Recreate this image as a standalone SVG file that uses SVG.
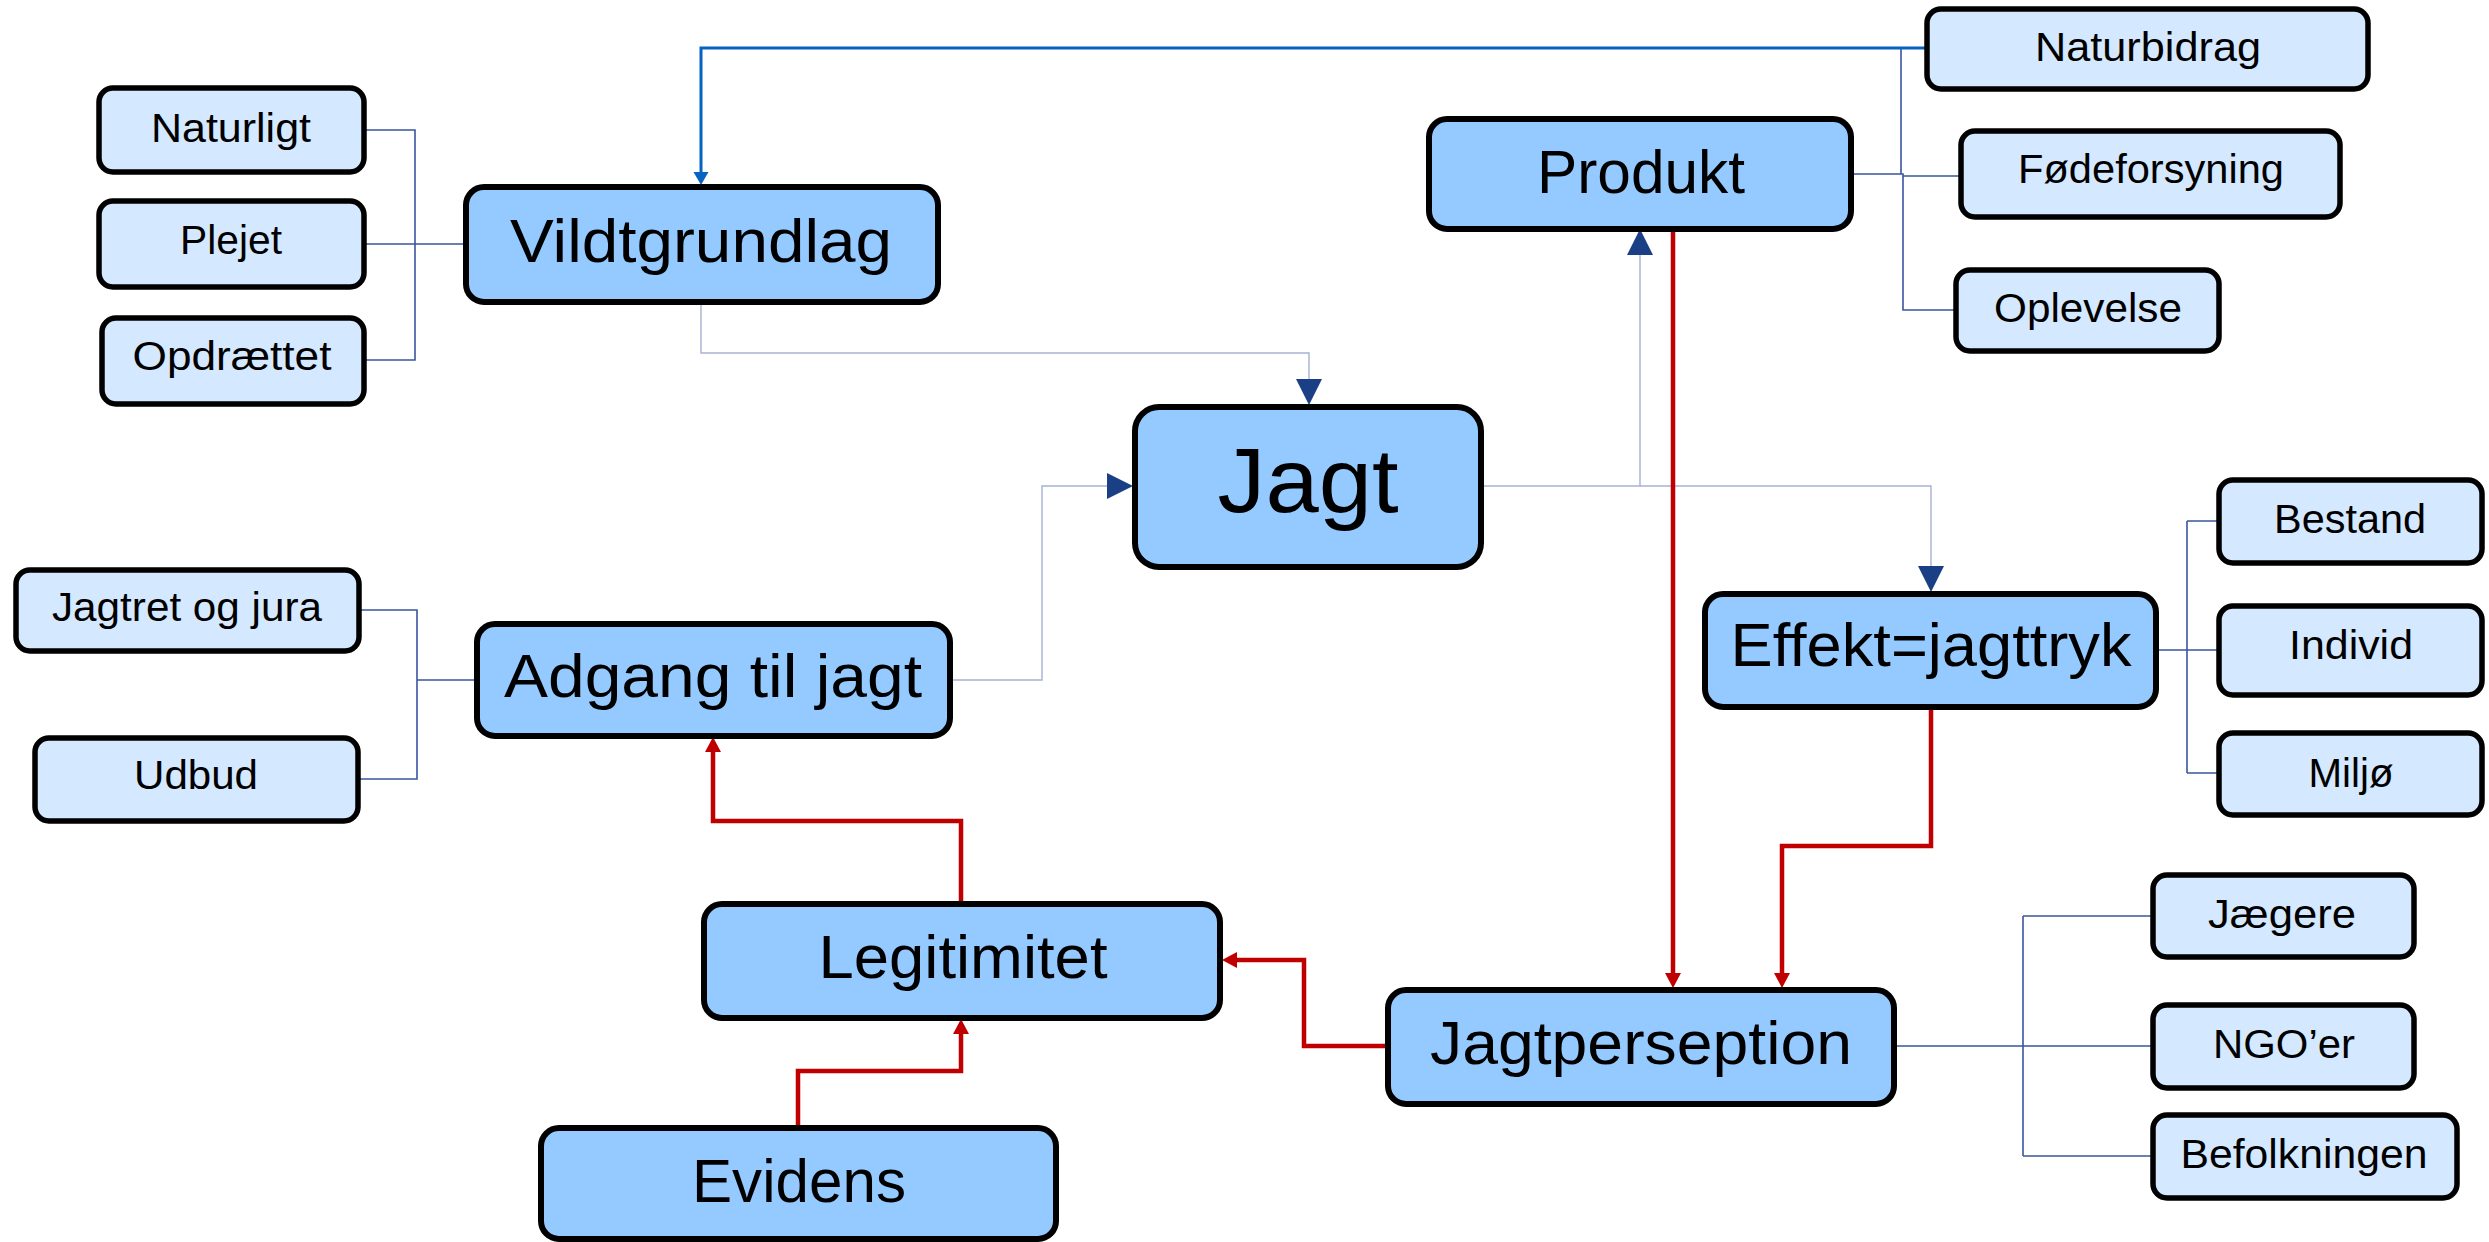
<svg xmlns="http://www.w3.org/2000/svg" width="2489" height="1242" viewBox="0 0 2489 1242">
<style>
.big rect{fill:#94CAFF;stroke:#000;stroke-width:6}
.sm rect{fill:#D4E9FF;stroke:#000;stroke-width:5.5}
text{font-family:"Liberation Sans",Arial,sans-serif;fill:#000;text-anchor:middle}
.big text{font-size:62px}
.sm text{font-size:41px}
.dk{fill:none;stroke:#3A55A0;stroke-width:1.6}
.lt{fill:none;stroke:#A6B2D2;stroke-width:1.4}
.bl{fill:none;stroke:#0563C1;stroke-width:3}
.rd{fill:none;stroke:#C00000;stroke-width:4.5}
</style>
<defs>
<marker id="mn" markerUnits="userSpaceOnUse" markerWidth="30" markerHeight="30" refX="0" refY="13" orient="auto" viewBox="0 0 30 30"><path d="M0,0 L26,13 L0,26 z" fill="#1A3F85"/></marker>
<marker id="mb" markerUnits="userSpaceOnUse" markerWidth="16" markerHeight="16" refX="0" refY="7.5" orient="auto" viewBox="0 0 16 16"><path d="M0,0 L13,7.5 L0,15 z" fill="#0563C1"/></marker>
<marker id="mr" markerUnits="userSpaceOnUse" markerWidth="18" markerHeight="18" refX="0" refY="8" orient="auto" viewBox="0 0 18 18"><path d="M0,0 L15,8 L0,16 z" fill="#C00000"/></marker>
</defs>
<g id="connectors">
<path class="dk" d="M364,130 H415 V360 H364 M364,244 H466"/>
<path class="dk" d="M359,610 H417 V779 H358 M417,680 H477"/>
<path class="dk" d="M2156,650 H2219 M2187,521 V773 M2187,521 H2219 M2187,773 H2219"/>
<path class="dk" d="M1894,1046 H2153 M2023,916 V1156 M2023,916 H2153 M2023,1156 H2153"/>
<path class="dk" d="M1851,174 H1903 V176 H1961 M1901,48 V174 M1903,176 V310 H1956"/>
<path class="lt" d="M701,302 V353 H1309 V379" marker-end="url(#mn)"/>
<path class="lt" d="M1481,486 H1640 V255" marker-end="url(#mn)"/>
<path class="lt" d="M1640,486 H1931 V566" marker-end="url(#mn)"/>
<path class="lt" d="M950,680 H1042 V486 H1107" marker-end="url(#mn)"/>
<path class="bl" d="M1927,48 H701 V172" marker-end="url(#mb)"/>
<path class="rd" d="M1673,230 V973" marker-end="url(#mr)"/>
<path class="rd" d="M1931,708 V846 H1782 V973" marker-end="url(#mr)"/>
<path class="rd" d="M1388,1046 H1304 V960 H1237" marker-end="url(#mr)"/>
<path class="rd" d="M961,904 V821 H713 V752" marker-end="url(#mr)"/>
<path class="rd" d="M798,1128 V1071 H961 V1034" marker-end="url(#mr)"/>
</g>
<g id="n-naturligt" class="sm"><rect x="99" y="88" width="265" height="84" rx="14"/><text x="231" y="142" textLength="160" lengthAdjust="spacingAndGlyphs">Naturligt</text></g>
<g id="n-plejet" class="sm"><rect x="99" y="201" width="265" height="86" rx="14"/><text x="231" y="254" textLength="102" lengthAdjust="spacingAndGlyphs">Plejet</text></g>
<g id="n-opdraettet" class="sm"><rect x="102" y="318" width="262" height="86" rx="14"/><text x="232" y="370" textLength="199" lengthAdjust="spacingAndGlyphs">Opdrættet</text></g>
<g id="n-vildtgrundlag" class="big"><rect x="466" y="187" width="472" height="115" rx="18"/><text x="701" y="262" textLength="382" lengthAdjust="spacingAndGlyphs">Vildtgrundlag</text></g>
<g id="n-naturbidrag" class="sm"><rect x="1927" y="9" width="441" height="80" rx="14"/><text x="2148" y="61" textLength="226" lengthAdjust="spacingAndGlyphs">Naturbidrag</text></g>
<g id="n-produkt" class="big"><rect x="1429" y="119" width="422" height="110" rx="18"/><text x="1641" y="193" textLength="208" lengthAdjust="spacingAndGlyphs">Produkt</text></g>
<g id="n-fodeforsyning" class="sm"><rect x="1961" y="131" width="379" height="86" rx="14"/><text x="2151" y="183" textLength="266" lengthAdjust="spacingAndGlyphs">Fødeforsyning</text></g>
<g id="n-oplevelse" class="sm"><rect x="1956" y="270" width="263" height="81" rx="14"/><text x="2088" y="322" textLength="188" lengthAdjust="spacingAndGlyphs">Oplevelse</text></g>
<g id="n-jagt" class="big"><rect x="1135" y="407" width="346" height="160" rx="24"/><text x="1308" y="512" style="font-size:91px" textLength="181" lengthAdjust="spacingAndGlyphs">Jagt</text></g>
<g id="n-effekt" class="big"><rect x="1705" y="594" width="451" height="113" rx="18"/><text x="1931" y="666" textLength="401" lengthAdjust="spacingAndGlyphs">Effekt=jagttryk</text></g>
<g id="n-bestand" class="sm"><rect x="2219" y="480" width="263" height="83" rx="14"/><text x="2350" y="533" textLength="152" lengthAdjust="spacingAndGlyphs">Bestand</text></g>
<g id="n-individ" class="sm"><rect x="2219" y="606" width="263" height="89" rx="14"/><text x="2351" y="659" textLength="124" lengthAdjust="spacingAndGlyphs">Individ</text></g>
<g id="n-miljo" class="sm"><rect x="2219" y="733" width="263" height="82" rx="14"/><text x="2351" y="787" textLength="85" lengthAdjust="spacingAndGlyphs">Miljø</text></g>
<g id="n-jaegere" class="sm"><rect x="2153" y="875" width="261" height="82" rx="14"/><text x="2282" y="928" textLength="148" lengthAdjust="spacingAndGlyphs">Jægere</text></g>
<g id="n-ngoer" class="sm"><rect x="2153" y="1005" width="261" height="83" rx="14"/><text x="2284" y="1058" textLength="142" lengthAdjust="spacingAndGlyphs">NGO’er</text></g>
<g id="n-befolkningen" class="sm"><rect x="2153" y="1115" width="304" height="83" rx="14"/><text x="2304" y="1168" textLength="247" lengthAdjust="spacingAndGlyphs">Befolkningen</text></g>
<g id="n-jagtperseption" class="big"><rect x="1388" y="990" width="506" height="114" rx="18"/><text x="1641" y="1064" textLength="422" lengthAdjust="spacingAndGlyphs">Jagtperseption</text></g>
<g id="n-legitimitet" class="big"><rect x="704" y="904" width="516" height="114" rx="18"/><text x="963" y="978" textLength="289" lengthAdjust="spacingAndGlyphs">Legitimitet</text></g>
<g id="n-jagtret" class="sm"><rect x="16" y="570" width="343" height="81" rx="14"/><text x="187" y="621" textLength="270" lengthAdjust="spacingAndGlyphs">Jagtret og jura</text></g>
<g id="n-udbud" class="sm"><rect x="35" y="738" width="323" height="83" rx="14"/><text x="196" y="789" textLength="124" lengthAdjust="spacingAndGlyphs">Udbud</text></g>
<g id="n-adgang" class="big"><rect x="477" y="624" width="473" height="112" rx="18"/><text x="713" y="697" textLength="418" lengthAdjust="spacingAndGlyphs">Adgang til jagt</text></g>
<g id="n-evidens" class="big"><rect x="541" y="1128" width="515" height="111" rx="18"/><text x="799" y="1202" textLength="214" lengthAdjust="spacingAndGlyphs">Evidens</text></g>
</svg>
